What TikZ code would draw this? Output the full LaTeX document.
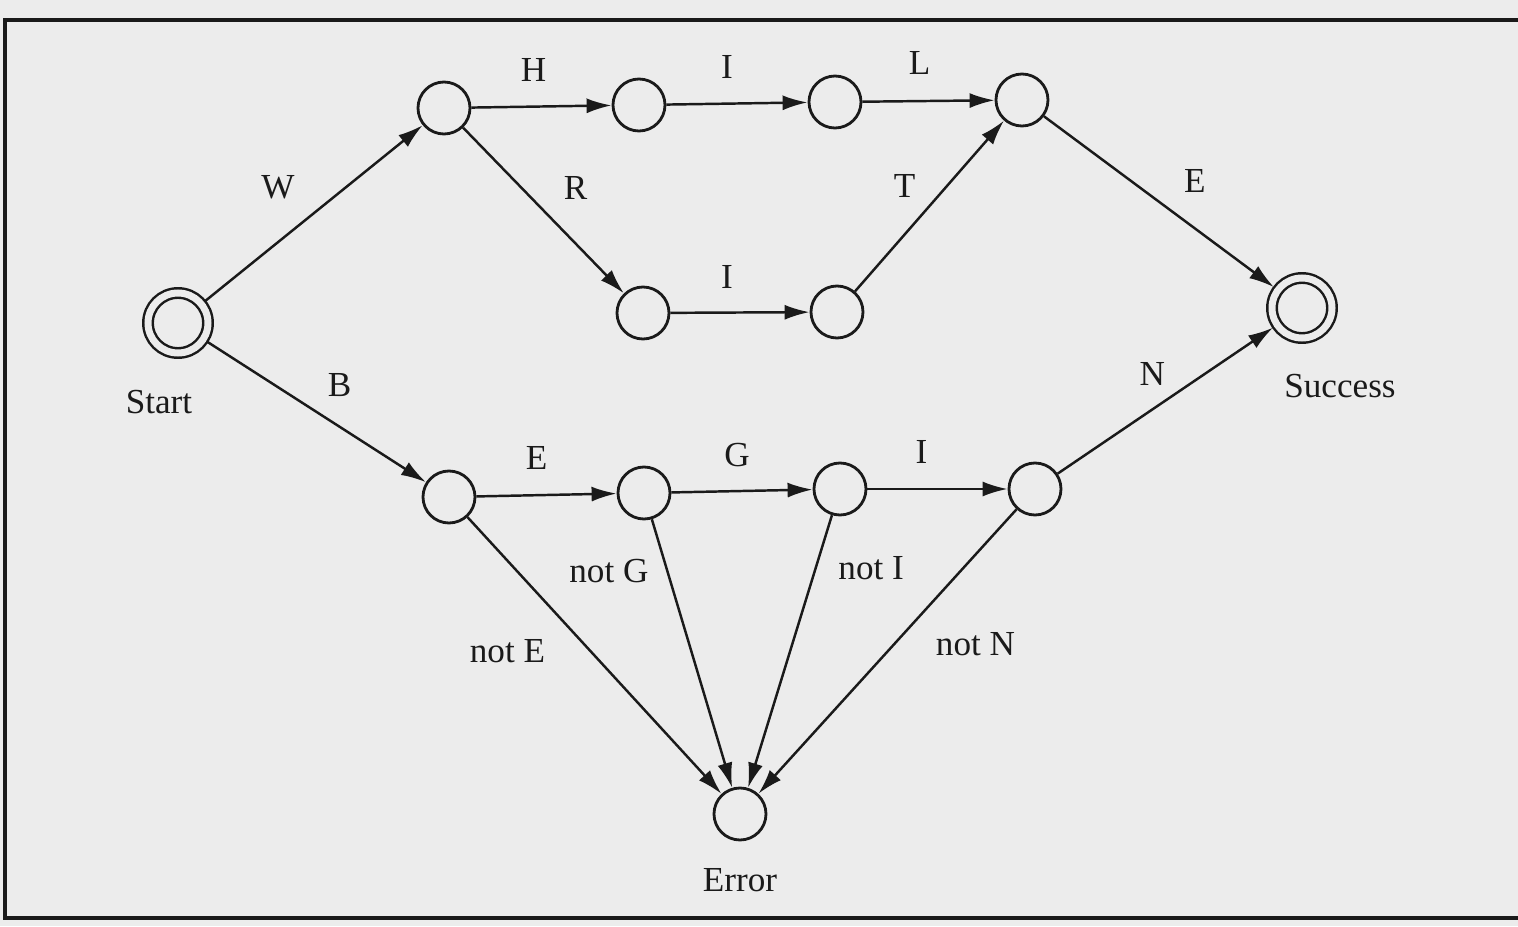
\documentclass[tikz,border=0pt]{standalone}
\usepackage{fontspec}
\setmainfont{Liberation Serif}
\usetikzlibrary{arrows.meta,positioning}
\definecolor{scan}{HTML}{ECECEC}
\definecolor{ink}{HTML}{1A1A1A}
\tikzset{
  state/.style={circle,draw=ink,line width=0.8pt,
                minimum size=0.52cm,inner sep=0pt},
  endstate/.style={circle,draw=ink,line width=0.7pt,double=scan,
                   double distance=0.07cm,minimum size=0.6cm,
                   inner sep=0pt,outer sep=0.05cm},
  edgelbl/.style={font=\normalsize,inner sep=1pt,text=ink},
  tran/.style={-{Latex[length=2.5mm,width=1.5mm]},line width=0.7pt,draw=ink},
  frame/.style={draw=ink,line width=1pt}
}

\begin{document}
\begin{tikzpicture}
  % page and frame
  \fill[scan] (0,0) rectangle (15.18,9.26);
  \useasboundingbox (0,0) rectangle (15.18,9.26);
  \draw[frame] (0.05,0.08) rectangle (15.40,9.06);
  % start, success and error states
  \node[endstate] (start) at (1.78,6.03) {};
  \node[endstate] (succ) at (13.02,6.18) {};
  \node[state] (err) at (7.40,1.12) {};
  \node[edgelbl,below=0.28cm of start,xshift=-0.19cm] (startlbl) {Start};
  \node[edgelbl,below=0.27cm of succ,xshift=0.38cm] (succlbl) {Success};
  \node[edgelbl,below=0.23cm of err] (errlbl) {Error};
  % inner states
  \foreach \n/\x/\y in {t1/4.44/8.18,t2/6.39/8.21,t3/8.35/8.24,t4/10.22/8.26,
                        m1/6.43/6.13,m2/8.37/6.14,
                        u1/4.49/4.29,u2/6.44/4.33,u3/8.40/4.37,u4/10.35/4.37} {
    \node[state] (\n) at (\x,\y) {};
  }
  % transitions towards success
  \foreach \a/\b/\t/\dx/\dy in {start/t1/W/-0.36/0.26, t1/t2/H/-0.08/0.37,
      t2/t3/I/-0.10/0.37, t3/t4/L/-0.09/0.38, t1/m1/R/0.32/0.23,
      m1/m2/I/-0.13/0.36, m2/t4/T/-0.25/0.20, t4/succ/E/0.36/0.21,
      start/u1/B/0.23/0.27, u1/u2/E/-0.10/0.37, u2/u3/G/-0.05/0.36,
      u3/u4/I/-0.16/0.37, u4/succ/N/-0.13/0.27} {
    \draw[tran] (\a) -- node[edgelbl,shift={(\dx,\dy)}] {\t} (\b);
  }
  % failing transitions
  \foreach \a/\t/\p/\dx/\dy in {u1/not E/0.5/-0.87/0.04, u2/not G/0.2/-0.59/0.02,
      u3/not I/0.2/0.56/0.02, u4/not N/0.5/0.88/0.07} {
    \draw[tran] (\a) -- node[edgelbl,pos=\p,shift={(\dx,\dy)}] {\t} (err);
  }
\end{tikzpicture}
\end{document}
